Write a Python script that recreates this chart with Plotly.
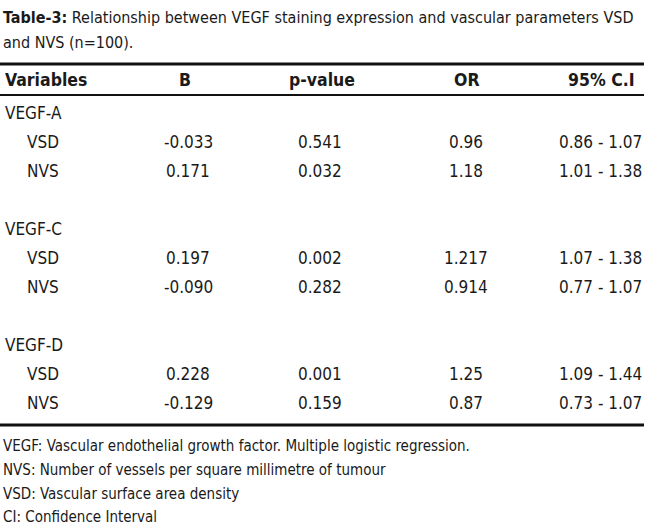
import plotly.graph_objects as go

# table content
title_lines = ["<b>Table-3:</b> Relationship between VEGF staining expression and vascular parameters VSD",
               "and NVS (n=100)."]
headers = ["Variables", "B", "p-value", "OR", "95% C.I"]
groups = ["VEGF-A", "VEGF-C", "VEGF-D"]
params = ["VSD", "NVS"]
b_vals = ["-0.033", "0.171", "0.197", "-0.090", "0.228", "-0.129"]
p_vals = ["0.541", "0.032", "0.002", "0.282", "0.001", "0.159"]
or_vals = ["0.96", "1.18", "1.217", "0.914", "1.25", "0.87"]
ci_vals = ["0.86 - 1.07", "1.01 - 1.38", "1.07 - 1.38", "0.77 - 1.07", "1.09 - 1.44", "0.73 - 1.07"]
footnotes = ["VEGF: Vascular endothelial growth factor. Multiple logistic regression.",
             "NVS: Number of vessels per square millimetre of tumour",
             "VSD: Vascular surface area density",
             "CI: Confidence Interval"]

FONT = "DejaVu Sans Condensed, Liberation Sans Narrow, DejaVu Sans, sans-serif"
W, H = 650, 531

# layout (pixel positions)
header_x = [3, 185, 322, 467, 601]
cell_x = [25, 188, 320, 466, 600]
title_y = [17, 42]
header_y = 80
group_y = [113, 229, 345]
row_gap = 29
foot_y = [446, 470, 494, 517]

fig = go.Figure()
annotations = []

for t, y in zip(title_lines, title_y):
    annotations.append(dict(x=1, y=y, text=t, xanchor="left", font=dict(size=16)))

for i, h in enumerate(headers):
    annotations.append(dict(x=header_x[i], y=header_y, text="<b>" + h + "</b>",
                            xanchor="left" if i == 0 else "center", font=dict(size=17.5)))

for g, gname in enumerate(groups):
    gy = group_y[g]
    annotations.append(dict(x=3, y=gy, text=gname, xanchor="left"))
    for k, pname in enumerate(params):
        idx = g * 2 + k
        ry = gy + row_gap * (k + 1)
        cells = [pname, b_vals[idx], p_vals[idx], or_vals[idx], ci_vals[idx]]
        for c, txt in enumerate(cells):
            annotations.append(dict(x=cell_x[c], y=ry, text=txt,
                                    xanchor="left" if c == 0 else "center"))

for f, y in zip(footnotes, foot_y):
    annotations.append(dict(x=1, y=y, text=f, xanchor="left", font=dict(size=15)))

for a in annotations:
    a.setdefault("font", dict(size=17))
    a["font"].update(family=FONT, color="#1a1a1a")
    a.update(xref="x", yref="y", showarrow=False, yanchor="middle")

line_y = [(64, 3), (95, 2), (425, 3)]
shapes = [dict(type="line", xref="x", yref="y", x0=0, x1=644, y0=y, y1=y,
               line=dict(color="#111111", width=w)) for y, w in line_y]

fig.add_trace(go.Scatter(x=[0, W], y=[0, H], mode="markers", marker=dict(opacity=0),
                         hoverinfo="skip", showlegend=False))

fig.update_layout(
    width=W, height=H,
    margin=dict(l=0, r=0, t=0, b=0),
    paper_bgcolor="white", plot_bgcolor="white",
    xaxis=dict(range=[0, W], visible=False, fixedrange=True),
    yaxis=dict(range=[H, 0], visible=False, fixedrange=True),
    annotations=annotations,
    shapes=shapes,
)

fig.write_html("out.html", config={"displayModeBar": False},
               post_script="document.body.style.margin='0';")
